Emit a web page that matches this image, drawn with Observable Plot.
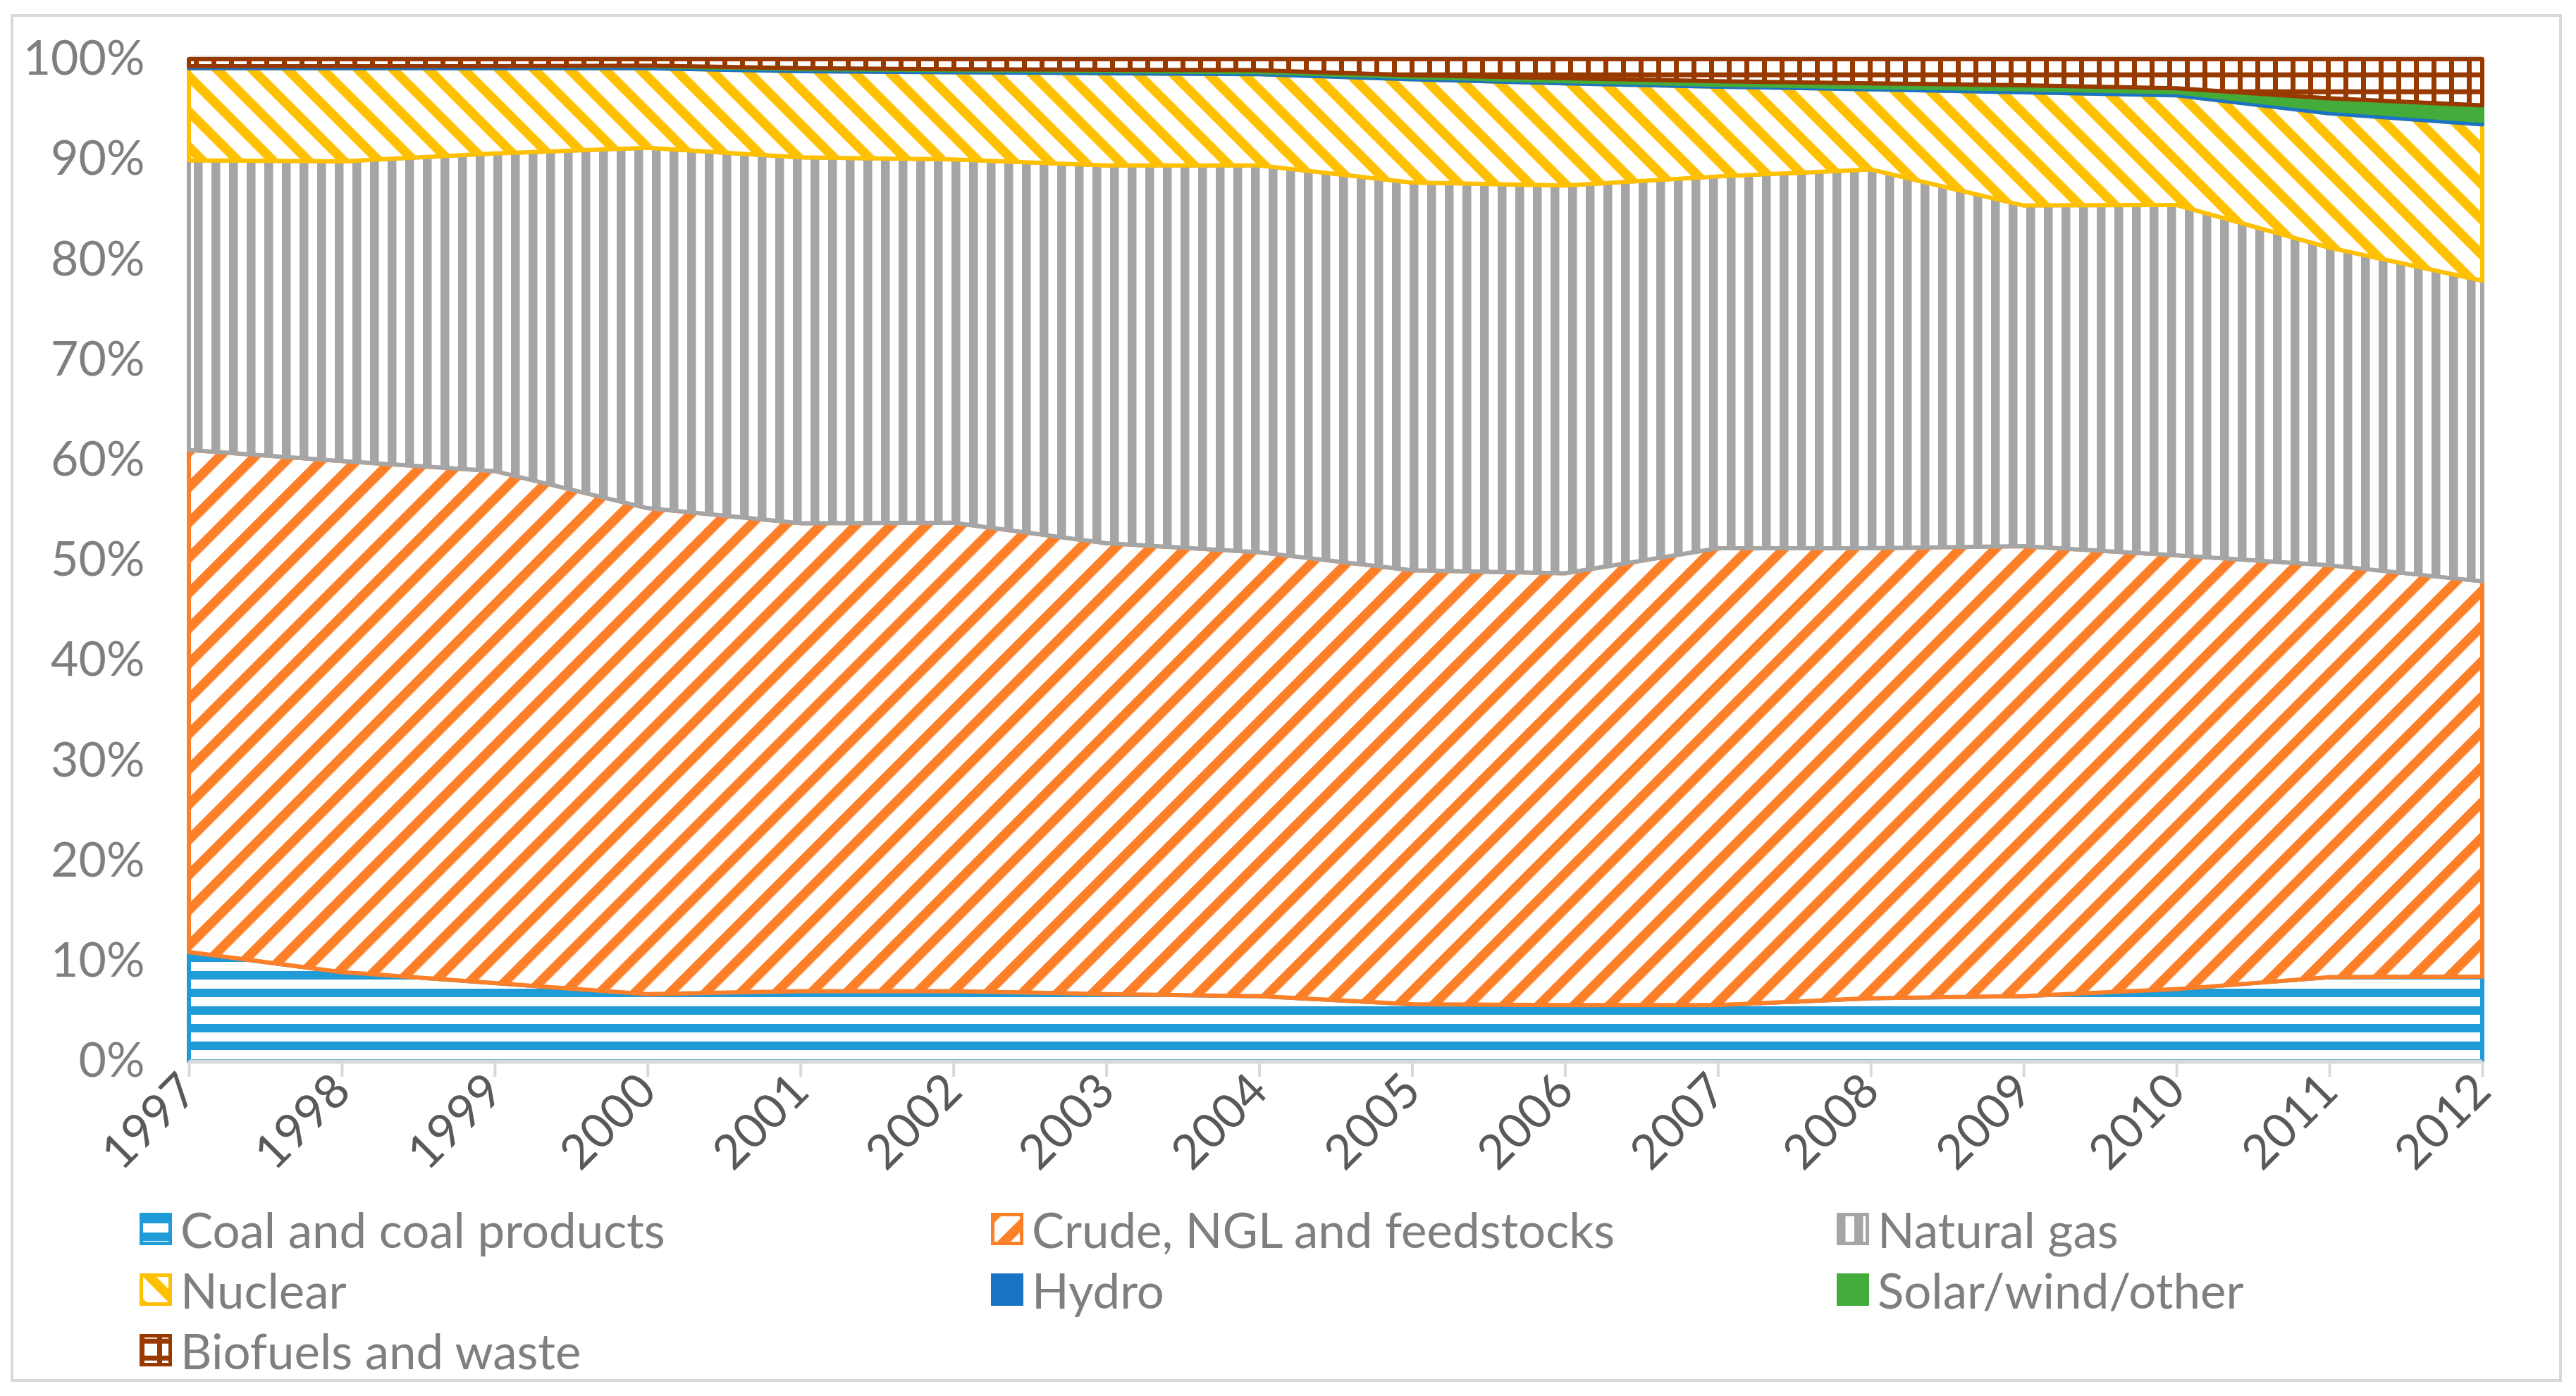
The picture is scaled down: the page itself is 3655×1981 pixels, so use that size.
<!DOCTYPE html>
<html>
<head>
<meta charset="utf-8">
<script src="https://cdn.jsdelivr.net/npm/d3@7"></script>
<script src="https://cdn.jsdelivr.net/npm/@observablehq/plot@0.6"></script>
<style>
  html, body { margin: 0; padding: 0; background: #ffffff; }
  #wrap { position: relative; width: 3655px; height: 1981px; overflow: hidden; font-family: Lato, "Liberation Sans", sans-serif; }
  #frame { position: absolute; left: 15px; top: 20px; width: 3620px; height: 1941px; border: 4px solid #d9d9d9; box-sizing: border-box; }
  #chart { position: absolute; left: 0; top: 0; }
  #legend { position: absolute; left: 0; top: 0; width: 3655px; height: 1981px; }
  .legend-item { position: absolute; display: flex; align-items: center; font-size: 69px; color: #7f7f7f; white-space: nowrap; line-height: 1; height: 48px; }
  .legend-item svg { margin-right: 12px; flex: none; }
</style>
</head>
<body>
<div id="wrap">
  <div id="frame"></div>
  <svg width="0" height="0" style="position:absolute">
    <defs>
      <pattern id="pat-coal" patternUnits="userSpaceOnUse" x="0" y="3" width="25" height="25">
        <rect width="25" height="25" fill="#ffffff"></rect>
        <rect width="25" height="12" fill="#1F9BD7"></rect>
      </pattern>
      <pattern id="pat-crude" patternUnits="userSpaceOnUse" width="35.36" height="20" patternTransform="rotate(45)">
        <rect width="35.36" height="20" fill="#ffffff"></rect>
        <rect width="13.4" height="20" fill="#FD7F28"></rect>
      </pattern>
      <pattern id="pat-gas" patternUnits="userSpaceOnUse" width="25" height="25">
        <rect width="25" height="25" fill="#ffffff"></rect>
        <rect width="12.5" height="25" fill="#A5A5A5"></rect>
      </pattern>
      <pattern id="pat-nuclear" patternUnits="userSpaceOnUse" width="35.36" height="20" patternTransform="rotate(-45)">
        <rect width="35.36" height="20" fill="#ffffff"></rect>
        <rect width="13.4" height="20" fill="#FFC000"></rect>
      </pattern>
      <pattern id="pat-bio" patternUnits="userSpaceOnUse" x="0" y="6.7" width="25" height="24">
        <rect width="25" height="24" fill="#ffffff"></rect>
        <rect width="7" height="24" fill="#983A00"></rect>
        <rect width="25" height="7" fill="#983A00"></rect>
      </pattern>
    </defs>
  </svg>
  <div id="chart"></div>
  <div id="legend"></div>
</div>
<script>
// ---------- data (shares of total, %) ----------
const years = [1997, 1998, 1999, 2000, 2001, 2002, 2003, 2004, 2005, 2006, 2007, 2008, 2009, 2010, 2011, 2012];

const seriesNames = [
  "Coal and coal products",
  "Crude, NGL and feedstocks",
  "Natural gas",
  "Nuclear",
  "Hydro",
  "Solar/wind/other",
  "Biofuels and waste"
];

const coal    = [10.9, 8.9, 7.8, 6.7, 7.0, 7.0, 6.7, 6.5, 5.7, 5.6, 5.6, 6.3, 6.5, 7.2, 8.4, 8.45];
const crude   = [50.1, 51.0, 51.1, 48.5, 46.7, 46.75, 45.0, 44.3, 43.3, 43.1, 45.6, 44.9, 44.9, 43.3, 41.1, 39.45];
const gas     = [28.9, 29.9, 31.7, 35.95, 36.5, 36.25, 37.7, 38.6, 38.7, 38.7, 37.1, 37.8, 34.0, 34.95, 31.7, 30.0];
const nuclear = [9.2, 9.3, 8.5, 7.95, 8.6, 8.7, 9.2, 9.1, 10.3, 10.2, 8.95, 8.0, 11.3, 10.95, 13.4, 15.6];
const hydro   = [0.2, 0.2, 0.2, 0.2, 0.2, 0.2, 0.2, 0.2, 0.2, 0.2, 0.2, 0.2, 0.3, 0.3, 0.35, 0.35];
const solar   = [0.0, 0.0, 0.0, 0.05, 0.1, 0.1, 0.15, 0.2, 0.2, 0.3, 0.35, 0.4, 0.4, 0.4, 1.15, 1.55];
const biofuel = [0.7, 0.7, 0.7, 0.65, 0.9, 1.0, 1.05, 1.1, 1.6, 1.9, 2.2, 2.4, 2.6, 2.9, 3.9, 4.6];

const yTicks = [0, 0.1, 0.2, 0.3, 0.4, 0.5, 0.6, 0.7, 0.8, 0.9, 1.0];

// ---------- styles ----------
const seriesValues = [coal, crude, gas, nuclear, hydro, solar, biofuel];
const seriesColors = ["#1F9BD7", "#FD7F28", "#A5A5A5", "#FFC000", "#1B73C7", "#43AC3A", "#983A00"];
const seriesFills  = ["url(#pat-coal)", "url(#pat-crude)", "url(#pat-gas)", "url(#pat-nuclear)", "#1B73C7", "#43AC3A", "url(#pat-bio)"];

const data = seriesNames.flatMap((s, i) =>
  years.map((y, j) => ({year: y, series: s, value: seriesValues[i][j]}))
);

const strokeKey = s => s + " \u2014line";

const chart = Plot.plot({
  width: 3655,
  height: 1680,
  marginLeft: 268,
  marginRight: 133,
  marginTop: 84,
  marginBottom: 174,
  style: {fontFamily: "Lato, 'Liberation Sans', sans-serif", fontSize: "62px", background: "transparent", overflow: "visible"},
  x: {domain: [years[0], years[years.length - 1]]},
  y: {domain: [0, 1]},
  color: {
    type: "ordinal",
    domain: [...seriesNames, ...seriesNames.map(strokeKey)],
    range: [...seriesFills, ...seriesColors]
  },
  marks: [
    Plot.ruleY([1], {stroke: "#d9d9d9", strokeWidth: 5, dy: -3}),
    Plot.areaY(data, Plot.stackY({
      x: "year",
      y: "value",
      z: "series",
      fill: d => d.series,
      stroke: d => strokeKey(d.series),
      strokeWidth: 6,
      offset: "normalize",
      curve: "linear"
    })),
    Plot.ruleY([0], {stroke: "#d9d9d9", strokeWidth: 6}),
    Plot.axisY({
      ticks: yTicks,
      tickFormat: d3.format(".0%"),
      tickSize: 0,
      tickPadding: 63,
      fill: "#7f7f7f",
      fontSize: 68,
      label: null
    }),
    Plot.axisX({
      ticks: years,
      tickFormat: d => String(d),
      tickRotate: -45,
      tickSize: 22,
      tickPadding: 8,
      stroke: "#d9d9d9",
      strokeWidth: 4,
      fill: "#595959",
      fontSize: 68,
      label: null
    })
  ]
});
document.getElementById("chart").appendChild(chart);

// ---------- legend ----------
const legendCols = [198, 1406, 2606];
const legendRows = [1744, 1830, 1916];
const legend = document.getElementById("legend");
seriesNames.forEach((name, i) => {
  const col = i % 3, row = Math.floor(i / 3);
  const item = document.createElement("div");
  item.className = "legend-item";
  item.style.left = legendCols[col] + "px";
  item.style.top = (legendRows[row] - 24) + "px";
  const sw = d3.create("svg").attr("width", 46).attr("height", 46);
  sw.append("rect")
    .attr("x", 2.5).attr("y", 2.5).attr("width", 41).attr("height", 41)
    .attr("fill", seriesFills[i])
    .attr("stroke", seriesColors[i])
    .attr("stroke-width", 5);
  item.appendChild(sw.node());
  const t = document.createElement("span");
  t.textContent = name;
  item.appendChild(t);
  legend.appendChild(item);
});
</script>
</body>
</html>
